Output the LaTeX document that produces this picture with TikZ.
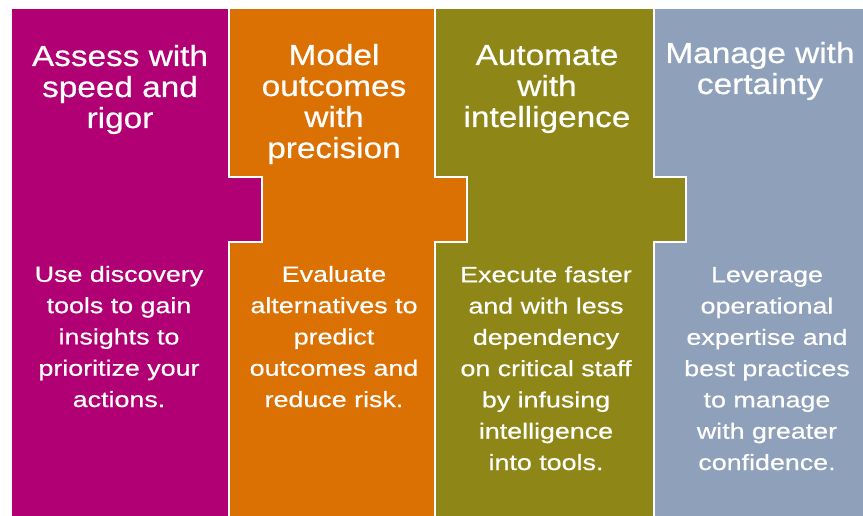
\documentclass[tikz,border=0pt]{standalone}
\usepackage{fontspec}
\setmainfont{Liberation Sans}
\newfontfamily\headfont[FakeStretch=1.15,FakeBold=0.6]{Liberation Sans}
\newfontfamily\copyfont[FakeStretch=1.22,FakeBold=0.6]{Liberation Sans}
\usepackage{xcolor}
\usepackage{tikz}

\definecolor{assess}{RGB}{176,0,115}
\definecolor{model}{RGB}{219,112,3}
\definecolor{automate}{RGB}{142,134,22}
\definecolor{manage}{RGB}{143,160,186}

\begin{document}
\begin{tikzpicture}[
  x=1pt, y=-1pt,
  piece/.style={draw=white, line width=1.2pt, line join=miter},
  head/.style={text=white, align=center, inner sep=0pt, anchor=base,
    font=\headfont\fontsize{29}{31}\selectfont},
  copy/.style={text=white, align=center, inner sep=0pt, anchor=base,
    font=\copyfont\fontsize{22}{31.3}\selectfont}
]
\useasboundingbox (0,0) rectangle (863,516);

% puzzle pieces, each tab reaching into the next one
\fill[white] (0,0) rectangle (863,516);
\filldraw[piece, fill=assess] (11,8) -- (229,8) -- (229,177) -- (262,177) -- (262,242)
  -- (229,242) -- (229,520) -- (11,520) -- cycle;
\filldraw[piece, fill=model] (229,8) -- (435,8) -- (435,177) -- (467,177) -- (467,242)
  -- (435,242) -- (435,520) -- (229,520) -- (229,242) -- (262,242) -- (262,177)
  -- (229,177) -- cycle;
\filldraw[piece, fill=automate] (435,8) -- (654,8) -- (654,177) -- (686,177) -- (686,242)
  -- (654,242) -- (654,520) -- (435,520) -- (435,242) -- (467,242) -- (467,177)
  -- (435,177) -- cycle;
\filldraw[piece, fill=manage] (654,8) -- (866,8) -- (866,520) -- (654,520) -- (654,242)
  -- (686,242) -- (686,177) -- (654,177) -- cycle;

% headings (anchored at the baseline of their last line)
\node[head] (assessHead) at (120,128) {Assess with\\speed and\\rigor};
\node[head] (modelHead) at (334,158) {Model\\outcomes\\with\\precision};
\node[head] (automateHead) at (547,127) {Automate\\with\\intelligence};
\node[head] (manageHead) at (760,94) {Manage with\\certainty};

% descriptions
\node[copy] (assessText) at (119,407) {Use discovery\\tools to gain\\insights to\\prioritize your\\actions.};
\node[copy] (modelText) at (334,407) {Evaluate\\alternatives to\\predict\\outcomes and\\reduce risk.};
\node[copy] (automateText) at (546,470) {Execute faster\\and with less\\dependency\\on critical staff\\by infusing\\intelligence\\into tools.};
\node[copy] (manageText) at (767,470) {Leverage\\operational\\expertise and\\best practices\\to manage\\with greater\\confidence.};
\end{tikzpicture}
\end{document}
